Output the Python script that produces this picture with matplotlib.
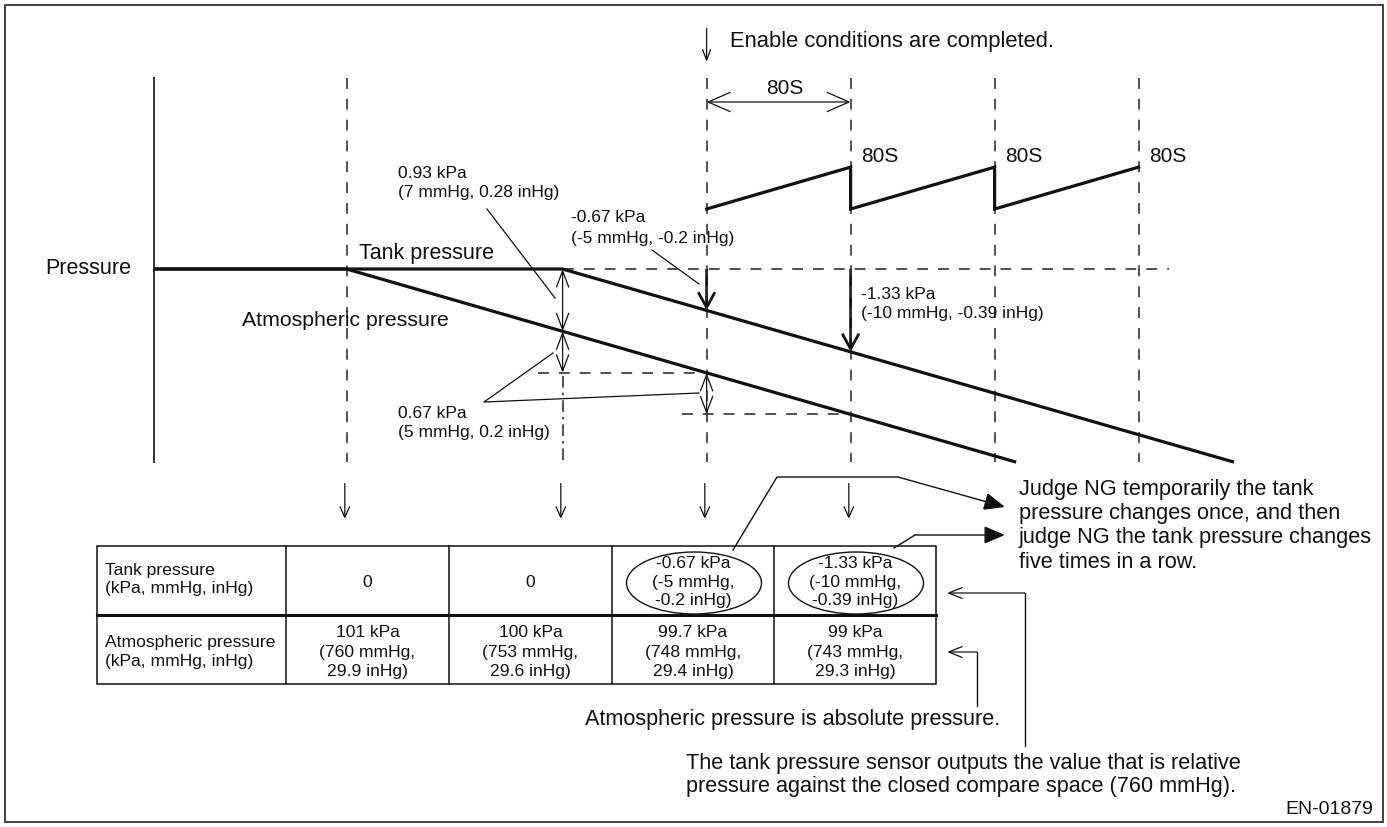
import numpy as np
import matplotlib
matplotlib.use("Agg")
import matplotlib.pyplot as plt
from matplotlib.patches import FancyArrowPatch, Ellipse, Rectangle

plt.rcParams['font.family'] = ['Liberation Sans', 'DejaVu Sans']

W, H, DPI = 1387, 827, 100

# timing diagram: time in seconds from the pressure axis, pressure in kPa (relative to start)
EVENT_T = [107, 227, 307, 387, 467, 547]   # atm falls, tank falls, enable, +80 s, +160 s, +240 s
PERIOD_S = 80
TANK_T = [0, 227, 600]
TANK_P = [0.0, 0.0, -3.09]
ATM_T = [0, 107, 479]
ATM_P = [0.0, 0.0, -3.09]
TIMER_T = [307, 387, 387, 467, 467, 547]
TIMER_P = [0.96, 1.63, 0.96, 1.63, 0.96, 1.63]

# table under the diagram
ROW_LABELS = ["Tank pressure\n(kPa, mmHg, inHg)",
              "Atmospheric pressure\n(kPa, mmHg, inHg)"]
TANK_CELLS = ["0", "0", "-0.67 kPa\n(-5 mmHg,\n-0.2 inHg)", "-1.33 kPa\n(-10 mmHg,\n-0.39 inHg)"]
ATM_CELLS = ["101 kPa\n(760 mmHg,\n29.9 inHg)", "100 kPa\n(753 mmHg,\n29.6 inHg)",
             "99.7 kPa\n(748 mmHg,\n29.4 inHg)", "99 kPa\n(743 mmHg,\n29.3 inHg)"]
CIRCLED = [2, 3]

# layout (pixels)
X0_PX, PX_PER_S = 154, 1.8
Y0_PX, PX_PER_KPA = 269, 62.5
TABLE_X = [97, 286, 449, 612, 774, 936]
TABLE_Y = [546, 615, 684]

INK = '#111111'
DASH = '#333333'


def p_of(y_px):
    return (Y0_PX - y_px) / PX_PER_KPA


def x_px(t):
    return X0_PX + t * PX_PER_S


def arrow(ax, a, b, style='->', hl=1.2, hw=0.45, lw=0.9, color=INK, scale=10):
    ax.add_patch(FancyArrowPatch(a, b, arrowstyle=f'{style},head_length={hl},head_width={hw}',
                                 mutation_scale=scale, lw=lw, color=color,
                                 shrinkA=0, shrinkB=0, joinstyle='miter', capstyle='butt'))


def put(ax, x, y, s, step, size, ha='left'):
    rows = s.split('\n')
    for i, line in enumerate(rows):
        ax.text(x, y + (i - (len(rows) - 1) / 2) * step, line, ha=ha, va='center',
                fontsize=size, color=INK)


fig = plt.figure(figsize=(W / DPI, H / DPI), dpi=DPI)
ax = fig.add_axes([0, 0, 1, 1])
ax.set_xlim(-X0_PX / PX_PER_S, (W - X0_PX) / PX_PER_S)
ax.set_ylim(p_of(H), p_of(0))
ax.axis('off')
lay = fig.add_axes([0, 0, 1, 1])
lay.set_xlim(0, W)
lay.set_ylim(H, 0)
lay.axis('off')

lay.add_patch(Rectangle((5, 5), 1378, 817, fill=False, ec='#333333', lw=1.3))

top, bot = p_of(78), p_of(462)
dash = (0, (6.5, 6))

# pressure axis and event lines
ax.plot([0, 0], [top, bot], color='#333333', lw=1.4)
t_atm, t_tank, t_en = EVENT_T[0], EVENT_T[1], EVENT_T[2]
for t in [t_atm] + EVENT_T[2:]:
    ax.plot([t, t], [top, bot], color=DASH, lw=1.2, ls=dash)
ax.plot([t_tank, t_tank], [p_of(376), bot], color=DASH, lw=1.2, ls=(0, (7, 3, 1.5, 3)))

atm = lambda t: np.interp(t, ATM_T, ATM_P)
tank = lambda t: np.interp(t, TANK_T, TANK_P)

# reference dashed lines
ax.plot([t_tank, (1169 - X0_PX) / PX_PER_S], [0, 0], color=DASH, lw=1.2, ls=dash)
ax.plot([(538 - X0_PX) / PX_PER_S, t_en], [atm(t_en)] * 2, color=DASH, lw=1.2, ls=dash)
ax.plot([(682 - X0_PX) / PX_PER_S, EVENT_T[3] - 2], [atm(EVENT_T[3])] * 2, color=DASH, lw=1.2, ls=dash)

# pressures
ax.plot(TANK_T, TANK_P, color=INK, lw=2.3, solid_capstyle='butt', zorder=3)
ax.plot(ATM_T, ATM_P, color=INK, lw=2.3, solid_capstyle='butt', zorder=3)
ax.plot(TIMER_T, TIMER_P, color=INK, lw=2.3, solid_joinstyle='miter', zorder=3)

# difference arrows
arrow(ax, (t_tank, atm(t_tank)), (t_tank, 0), '<->')
arrow(ax, (t_tank, atm(t_tank)), (t_tank, atm(t_en)), '<->')
arrow(ax, (t_en, atm(t_en)), (t_en, atm(EVENT_T[3])), '<->')
arrow(ax, (t_en, 0), (t_en, tank(t_en)), '->', hl=1.1, hw=0.6, lw=2.0)
arrow(ax, (EVENT_T[3], 0), (EVENT_T[3], tank(EVENT_T[3])), '->', hl=1.1, hw=0.6, lw=2.0)

# enable arrow and 80 s span
arrow(ax, (t_en, p_of(28)), (t_en, p_of(62)), '->', hl=0.8, hw=0.3)
arrow(ax, (t_en, p_of(102)), (t_en + PERIOD_S, p_of(102)), '<->', hl=1.6, hw=0.7)
lay.text(x_px(t_en + PERIOD_S / 2) + 6, 89, "80S", ha='center', va='center', fontsize=15, color=INK)
for t in EVENT_T[3:]:
    lay.text(x_px(t) + 11, 156, "80S", ha='left', va='center', fontsize=15, color=INK)
lay.text(730, 42, "Enable conditions are completed.", ha='left', va='center', fontsize=15.8, color=INK)

# down arrows to the table
for t in EVENT_T[:4]:
    arrow(ax, (t - 1, p_of(483)), (t - 1, p_of(519)), '->', hl=0.8, hw=0.35)

# labels in the diagram
lay.text(45, 269, "Pressure", ha='left', va='center', fontsize=15.5, color=INK)
lay.text(359, 253, "Tank pressure", ha='left', va='center', fontsize=15.5, color=INK)
lay.text(242, 321, "Atmospheric pressure", ha='left', va='center', fontsize=15.3, color=INK)
put(lay, 398, 183, "0.93 kPa\n(7 mmHg, 0.28 inHg)", 20, 12.5)
put(lay, 571, 228, "-0.67 kPa\n(-5 mmHg, -0.2 inHg)", 20, 12.5)
put(lay, 398, 423, "0.67 kPa\n(5 mmHg, 0.2 inHg)", 20, 12.5)
put(lay, 861, 304, "-1.33 kPa\n(-10 mmHg, -0.39 inHg)", 19, 12.5)

for seg in [[(487, 209), (555, 298)], [(652, 250), (699, 284)],
            [(553, 353), (484, 402), (699, 393)]]:
    xs, ys = zip(*seg)
    lay.plot(xs, ys, color=INK, lw=0.9)

# table
x_l, x_r = TABLE_X[0], TABLE_X[-1]
lay.add_patch(Rectangle((x_l, TABLE_Y[0]), x_r - x_l, TABLE_Y[-1] - TABLE_Y[0], fill=False, ec=INK, lw=1.1))
lay.plot([x_l, x_r], [TABLE_Y[1]] * 2, color=INK, lw=2.2)
for xc in TABLE_X[1:-1]:
    lay.plot([xc, xc], [TABLE_Y[0], TABLE_Y[-1]], color=INK, lw=1.1)
for r, (label, cells) in enumerate(zip(ROW_LABELS, [TANK_CELLS, ATM_CELLS])):
    yc = (TABLE_Y[r] + TABLE_Y[r + 1]) / 2 + (2 if r == 0 else 2.5)
    put(lay, TABLE_X[0] + 8, yc - 3 if r == 0 else yc, label, 18.5, 12.6)
    for c, s in enumerate(cells):
        xc = (TABLE_X[c + 1] + TABLE_X[c + 2]) / 2
        put(lay, xc, yc, s, 18.5 if r == 0 else 19.5, 12.6, ha='center')
        if r == 0 and c in CIRCLED:
            lay.add_patch(Ellipse((xc + 1, 583), 135, 62, fill=False, ec=INK, lw=1.0))

# notes on the right
lay.plot([733, 777, 898], [550, 477, 477], color=INK, lw=1.0)
arrow(lay, (898, 477), (1005, 507), '-|>', hl=1.3, hw=0.55, lw=1.0)
lay.plot([894, 915], [548, 535], color=INK, lw=1.0)
arrow(lay, (915, 535), (1005, 535), '-|>', hl=1.3, hw=0.55, lw=1.0)
put(lay, 1019, 526, "Judge NG temporarily the tank\npressure changes once, and then\n"
    "judge NG the tank pressure changes\nfive times in a row.", 24, 15.7)

lay.plot([1025, 1025], [746, 593], color=INK, lw=1.0)
arrow(lay, (1025, 593), (947, 593), '->', hl=1.0, hw=0.4)
lay.plot([977, 977], [706, 652], color=INK, lw=1.0)
arrow(lay, (977, 652), (947, 652), '->', hl=1.0, hw=0.4)
lay.text(585, 719, "Atmospheric pressure is absolute pressure.", ha='left', va='center', fontsize=15.6, color=INK)
put(lay, 686, 775, "The tank pressure sensor outputs the value that is relative\n"
    "pressure against the closed compare space (760 mmHg).", 23, 15.6)
lay.text(1373, 810, "EN-01879", ha='right', va='center', fontsize=14, color=INK)

fig.savefig("out.png", dpi=DPI)
